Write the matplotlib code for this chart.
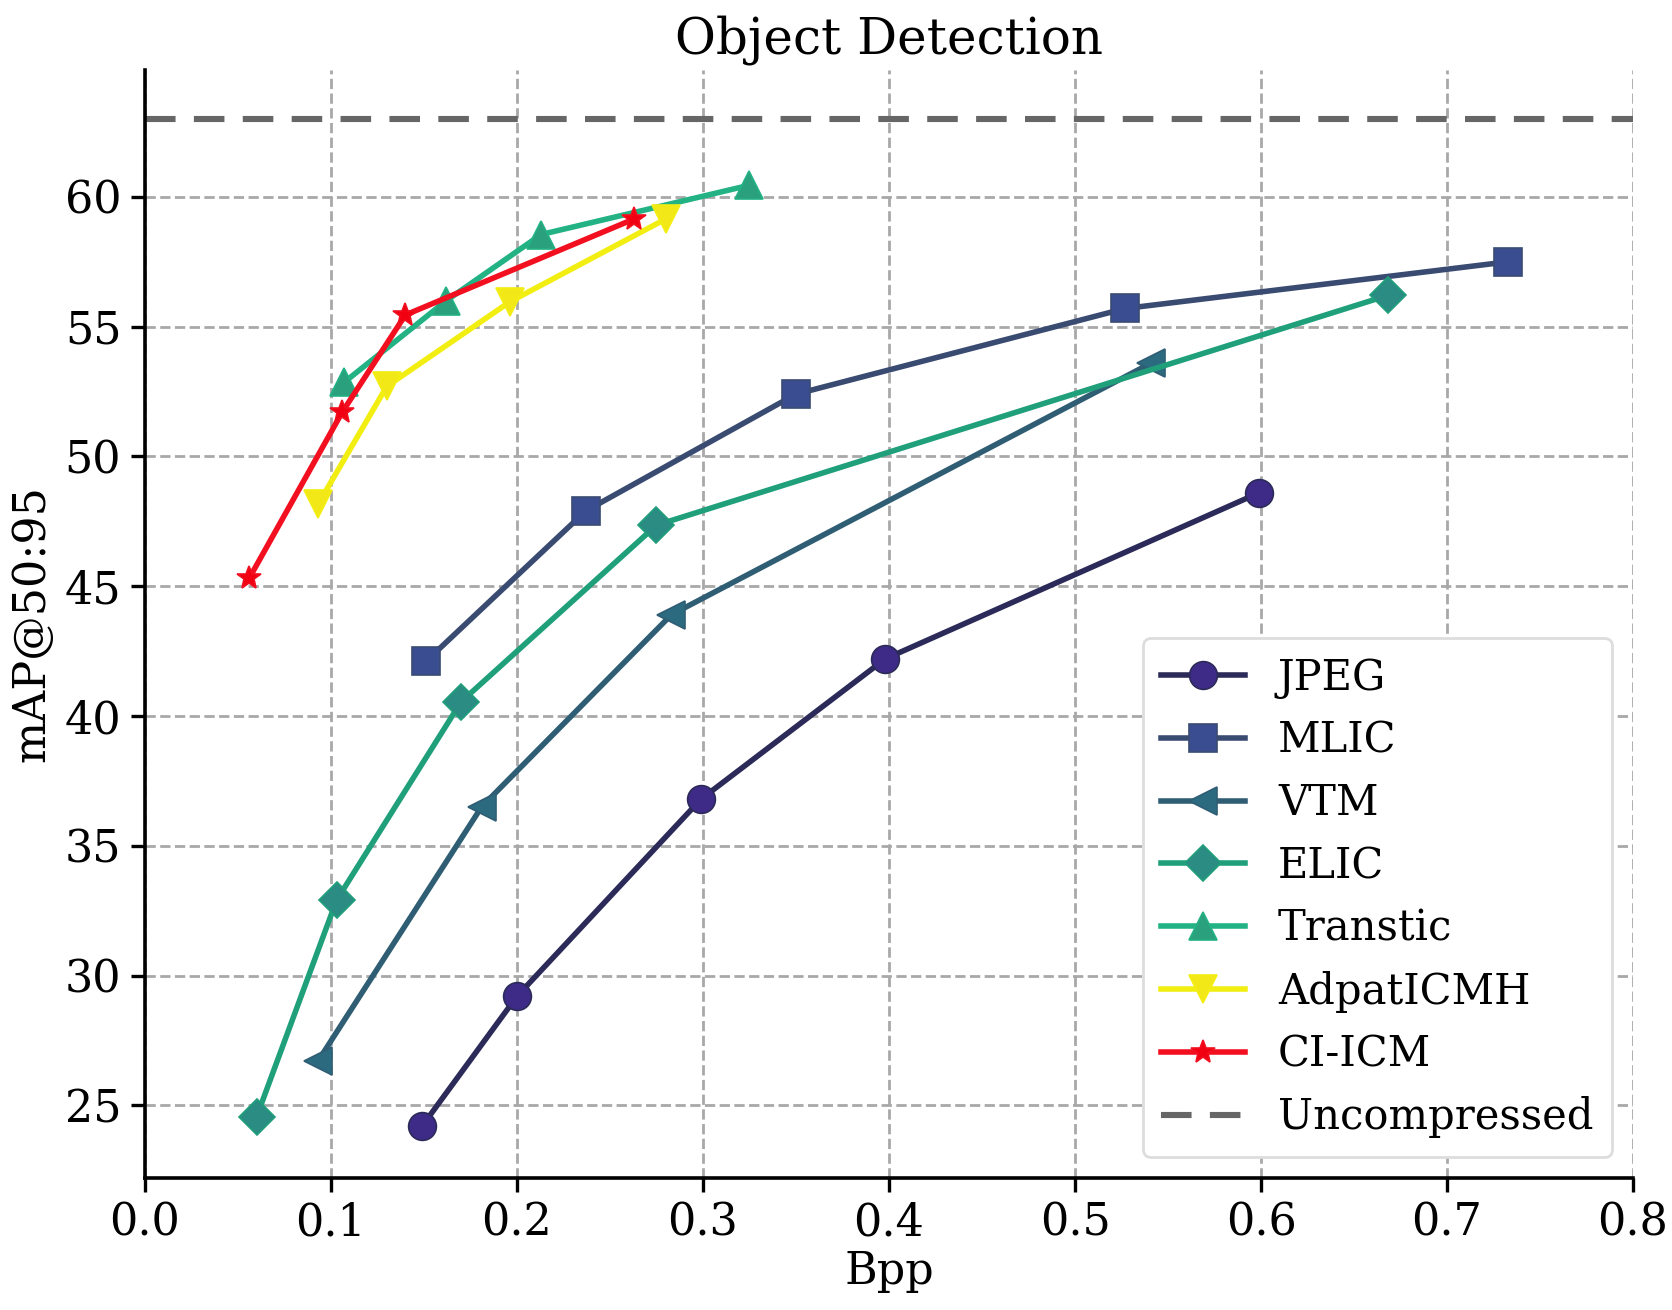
import matplotlib
matplotlib.use('Agg')
import matplotlib.pyplot as plt

plt.rcParams['font.family'] = 'DejaVu Serif'

# bpp / mAP values
jpeg_bpp = [0.149, 0.200, 0.299, 0.398, 0.599]
jpeg_map = [24.2, 29.2, 36.8, 42.2, 48.6]

mlic_bpp = [0.151, 0.237, 0.350, 0.527, 0.733]
mlic_map = [42.1, 47.9, 52.4, 55.7, 57.5]

vtm_bpp = [0.093, 0.181, 0.283, 0.541]
vtm_map = [26.7, 36.5, 43.9, 53.6]

elic_bpp = [0.060, 0.103, 0.170, 0.275, 0.668]
elic_map = [24.55, 32.9, 40.55, 47.35, 56.2]

transtic_bpp = [0.107, 0.162, 0.213, 0.325]
transtic_map = [52.85, 56.0, 58.55, 60.45]

adapt_bpp = [0.093, 0.130, 0.196, 0.280]
adapt_map = [48.15, 52.7, 55.95, 59.15]

ciicm_bpp = [0.056, 0.106, 0.140, 0.263]
ciicm_map = [45.3, 51.7, 55.45, 59.15]

uncompressed_map = 63.0

series = [
    ('JPEG', jpeg_bpp, jpeg_map, 'o', '#2b2a58', '#3e2b88'),
    ('MLIC', mlic_bpp, mlic_map, 's', '#3a4b72', '#3a4d90'),
    ('VTM', vtm_bpp, vtm_map, '<', '#2f5e74', '#2c6a80'),
    ('ELIC', elic_bpp, elic_map, 'D', '#1fa07a', '#2a8c82'),
    ('Transtic', transtic_bpp, transtic_map, '^', '#22b284', '#2aa07c'),
    ('AdpatICMH', adapt_bpp, adapt_map, 'v', '#f2ee12', '#f2e818'),
    ('CI-ICM', ciicm_bpp, ciicm_map, '*', '#f20f1f', '#f00010'),
]

fig = plt.figure(figsize=(8.36, 6.55), dpi=200)
ax = fig.add_axes([0.0867, 0.1008, 0.89, 0.846])

for name, x, y, m, lc, mc in series:
    ms = 10
    if m == 'D':
        ms = 9
    if m == '*':
        ms = 9
    ax.plot(x, y, marker=m, color=lc, markerfacecolor=mc, markeredgecolor=lc,
            markeredgewidth=0.6, markersize=ms, linewidth=2, label=name)

ax.axhline(uncompressed_map, color='#666666', linestyle='--', linewidth=2.2,
           dashes=(5, 3), label='Uncompressed')

ax.set_xlim(0.0, 0.8)
ax.set_ylim(22.2, 64.9)
ax.set_xticks([0.0, 0.1, 0.2, 0.3, 0.4, 0.5, 0.6, 0.7, 0.8])
ax.set_yticks([25, 30, 35, 40, 45, 50, 55, 60])
ax.tick_params(labelsize=16, width=1.2, length=5)
ax.grid(True, linestyle='--', color='#a8a8a8', linewidth=1)
ax.spines['top'].set_visible(False)
ax.spines['right'].set_visible(False)
ax.spines['left'].set_linewidth(1.3)
ax.spines['bottom'].set_linewidth(1.3)

ax.set_xlabel('Bpp', fontsize=16, labelpad=2)
ax.set_ylabel('mAP@50:95', fontsize=16)
ax.set_title('Object Detection', fontsize=18, pad=6)

leg = ax.legend(loc='lower right', fontsize=15, handlelength=2.0,
                labelspacing=0.5, borderpad=0.45, framealpha=1,
                edgecolor='#dddddd', borderaxespad=0.5)

fig.savefig('out.png', dpi=200)
